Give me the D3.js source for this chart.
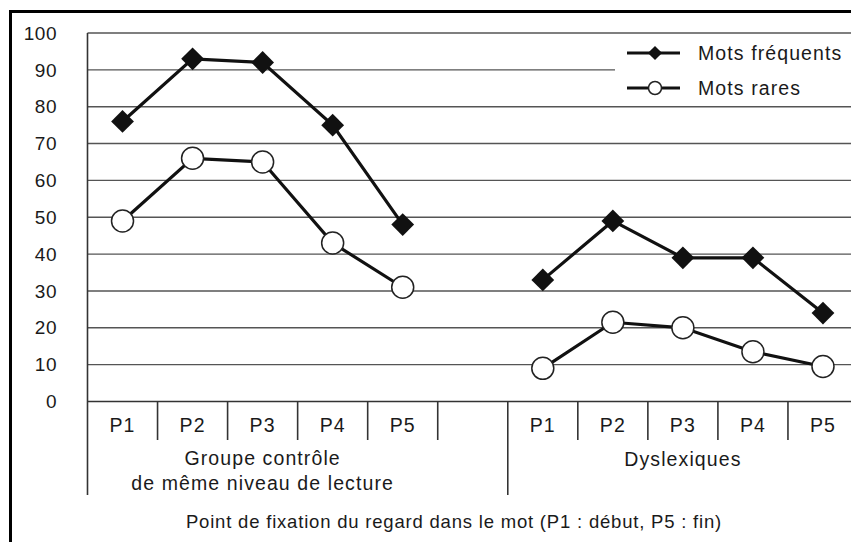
<!DOCTYPE html>
<html>
<head>
<meta charset="utf-8">
<script src="https://cdn.jsdelivr.net/npm/d3@7"></script>
<style>
  body { margin: 0; background: #fff; }
  text { font-family: "Liberation Sans", Arial, Helvetica, sans-serif; fill: #1a1a1a; letter-spacing: 1.1px; }
</style>
</head>
<body>
<svg id="chart" width="851" height="542"></svg>
<script>
// data
const positions = ["P1", "P2", "P3", "P4", "P5"];
const groups = ["Groupe contrôle", "Dyslexiques"];
const controlFrequent = [76, 93, 92, 75, 48];
const controlRare = [49, 66, 65, 43, 31];
const dyslexicFrequent = [33, 49, 39, 39, 24];
const dyslexicRare = [9, 21.5, 20, 13.5, 9.5];
const yTicks = [0, 10, 20, 30, 40, 50, 60, 70, 80, 90, 100];
const seriesNames = ["Mots fréquents", "Mots rares"];
const xTitle = "Point de fixation du regard dans le mot (P1 : début, P5 : fin)";

// one slot per position, with an empty slot between the two groups
const slots = positions.map(p => "c" + p)
  .concat(["gap"])
  .concat(positions.map(p => "d" + p));

const svg = d3.select("#chart");

const x = d3.scaleBand().domain(slots).range([87.5, 858]);
const y = d3.scaleLinear().domain([0, 100]).range([401.5, 33]);
const cx = s => x(s) + x.bandwidth() / 2;

// outer frame
svg.append("rect")
  .attr("x", 10.5).attr("y", 11.5)
  .attr("width", 900).attr("height", 600)
  .attr("fill", "none")
  .attr("stroke", "#000")
  .attr("stroke-width", 3);

// horizontal grid
svg.append("g")
  .selectAll("line")
  .data(yTicks.filter(d => d > 0))
  .join("line")
  .attr("x1", 87.5).attr("x2", 860)
  .attr("y1", d => y(d)).attr("y2", d => y(d))
  .attr("stroke", "#555")
  .attr("stroke-width", 1.4);

// y labels
svg.append("g")
  .selectAll("text")
  .data(yTicks)
  .join("text")
  .attr("x", 57)
  .attr("y", d => y(d))
  .attr("dy", "0.35em")
  .attr("text-anchor", "end")
  .attr("font-size", 19)
  .style("letter-spacing", "0.5px")
  .text(d => d);

// x axis line and band separators
svg.append("line")
  .attr("x1", 87.5).attr("x2", 860)
  .attr("y1", y(0)).attr("y2", y(0))
  .attr("stroke", "#333").attr("stroke-width", 1.6);

svg.append("line")
  .attr("x1", 87.5).attr("x2", 87.5)
  .attr("y1", y(100)).attr("y2", 495)
  .attr("stroke", "#333").attr("stroke-width", 1.6);

svg.append("g")
  .selectAll("line")
  .data(slots.slice(1))
  .join("line")
  .attr("x1", d => x(d)).attr("x2", d => x(d))
  .attr("y1", y(0))
  .attr("y2", d => d === "dP1" ? 495 : 440)
  .attr("stroke", "#333").attr("stroke-width", 1.6);

// position labels
svg.append("g")
  .selectAll("text")
  .data(slots.filter(s => s !== "gap"))
  .join("text")
  .attr("x", d => cx(d))
  .attr("y", 432)
  .attr("text-anchor", "middle")
  .attr("font-size", 19.5)
  .text(d => d.slice(1));

// group labels
const ctrlMid = (x("cP1") + x("cP5") + x.bandwidth()) / 2;
const dysMid = (x("dP1") + x("dP5") + x.bandwidth()) / 2;
svg.append("text")
  .attr("x", ctrlMid).attr("y", 465)
  .attr("text-anchor", "middle").attr("font-size", 19.5)
  .text(groups[0]);
svg.append("text")
  .attr("x", ctrlMid).attr("y", 490)
  .attr("text-anchor", "middle").attr("font-size", 19.5)
  .text("de même niveau de lecture");
svg.append("text")
  .attr("x", dysMid).attr("y", 466)
  .attr("text-anchor", "middle").attr("font-size", 19.5)
  .text(groups[1]);

// axis title
svg.append("text")
  .attr("x", 454).attr("y", 528)
  .attr("text-anchor", "middle").attr("font-size", 18.5)
  .style("letter-spacing", "0.8px")
  .text(xTitle);

// legend box hides the grid behind it
svg.append("rect")
  .attr("x", 615).attr("y", 37)
  .attr("width", 250).attr("height", 66)
  .attr("fill", "#fff");

const line = d3.line().x(d => cx(d.slot)).y(d => y(d.v));
const toPts = (prefix, vals) => vals.map((v, i) => ({ slot: prefix + positions[i], v }));

const series = [
  { pts: toPts("c", controlRare), kind: "rare" },
  { pts: toPts("d", dyslexicRare), kind: "rare" },
  { pts: toPts("c", controlFrequent), kind: "freq" },
  { pts: toPts("d", dyslexicFrequent), kind: "freq" }
];

const diamond = d3.symbol().type(d3.symbolSquare).size(260);

series.forEach(s => {
  svg.append("path")
    .attr("d", line(s.pts))
    .attr("fill", "none")
    .attr("stroke", "#111")
    .attr("stroke-width", 3.2);
  if (s.kind === "rare") {
    svg.append("g").selectAll("circle")
      .data(s.pts).join("circle")
      .attr("cx", d => cx(d.slot)).attr("cy", d => y(d.v))
      .attr("r", 11)
      .attr("fill", "#fff")
      .attr("stroke", "#222").attr("stroke-width", 1.5);
  } else {
    svg.append("g").selectAll("path")
      .data(s.pts).join("path")
      .attr("d", diamond)
      .attr("transform", d => `translate(${cx(d.slot)},${y(d.v)}) rotate(45)`)
      .attr("fill", "#111");
  }
});

// legend
const legend = svg.append("g");
seriesNames.forEach((name, i) => {
  const ly = 53 + i * 35;
  legend.append("line")
    .attr("x1", 627).attr("x2", 680)
    .attr("y1", ly).attr("y2", ly)
    .attr("stroke", "#111").attr("stroke-width", 3);
  if (i === 0) {
    legend.append("path")
      .attr("d", d3.symbol().type(d3.symbolSquare).size(100))
      .attr("transform", `translate(655,${ly}) rotate(45)`)
      .attr("fill", "#111");
  } else {
    legend.append("circle")
      .attr("cx", 655).attr("cy", ly).attr("r", 6.5)
      .attr("fill", "#fff").attr("stroke", "#222").attr("stroke-width", 1.5);
  }
  legend.append("text")
    .attr("x", 698).attr("y", ly + 7)
    .attr("font-size", 19.5)
    .text(name);
});
</script>
</body>
</html>
